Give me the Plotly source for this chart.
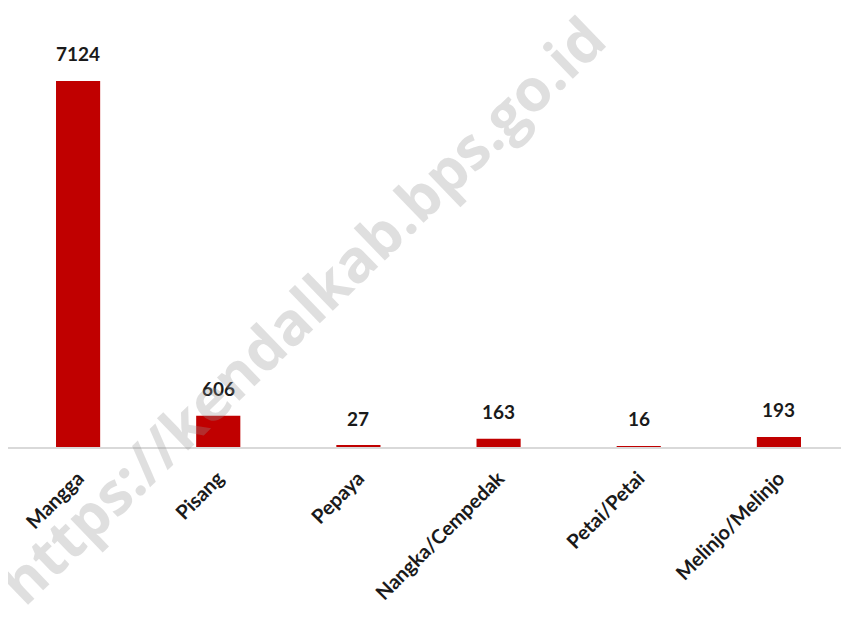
import plotly.graph_objects as go

categories = ["Mangga", "Pisang", "Pepaya", "Nangka/Cempedak", "Petai/Petai", "Melinjo/Melinjo"]
values = [7124, 606, 27, 163, 16, 193]
labels = [str(v) for v in values]

fig = go.Figure()
fig.add_trace(go.Bar(
    x=categories, y=values,
    marker=dict(color="#C00000", line=dict(width=0)),
    width=0.315,
))

annotations = [
    dict(x=c, y=v, text=t, xref="x", yref="y", showarrow=False,
         xanchor="center", yanchor="bottom", yshift=14,
         font=dict(family="Lato", size=19, color="#1a1a1a", weight="bold"))
    for c, v, t in zip(categories, values, labels)
]
annotations.append(dict(
    text="https://kendalkab.bps.go.id", x=0.349, y=0.335, xref="paper", yref="paper",
    xanchor="center", yanchor="middle", textangle=-44, showarrow=False,
    font=dict(family="Open Sans", size=59, color="rgba(150,150,150,0.3)", weight="bold"),
))

fig.update_layout(
    width=841, height=609,
    margin=dict(l=0, r=0, t=28, b=170),
    plot_bgcolor="white", paper_bgcolor="white",
    showlegend=False,
    xaxis=dict(showgrid=False, showline=True, linecolor="#d9d9d9", linewidth=1.5,
               tickangle=-45, ticks="", automargin=False, ticklabelstandoff=10,
               tickfont=dict(family="Lato", size=20, color="#1a1a1a", weight="bold")),
    yaxis=dict(range=[0, 8000], visible=False, showgrid=False, automargin=False),
    annotations=annotations,
)
fig.write_html("out.html")
